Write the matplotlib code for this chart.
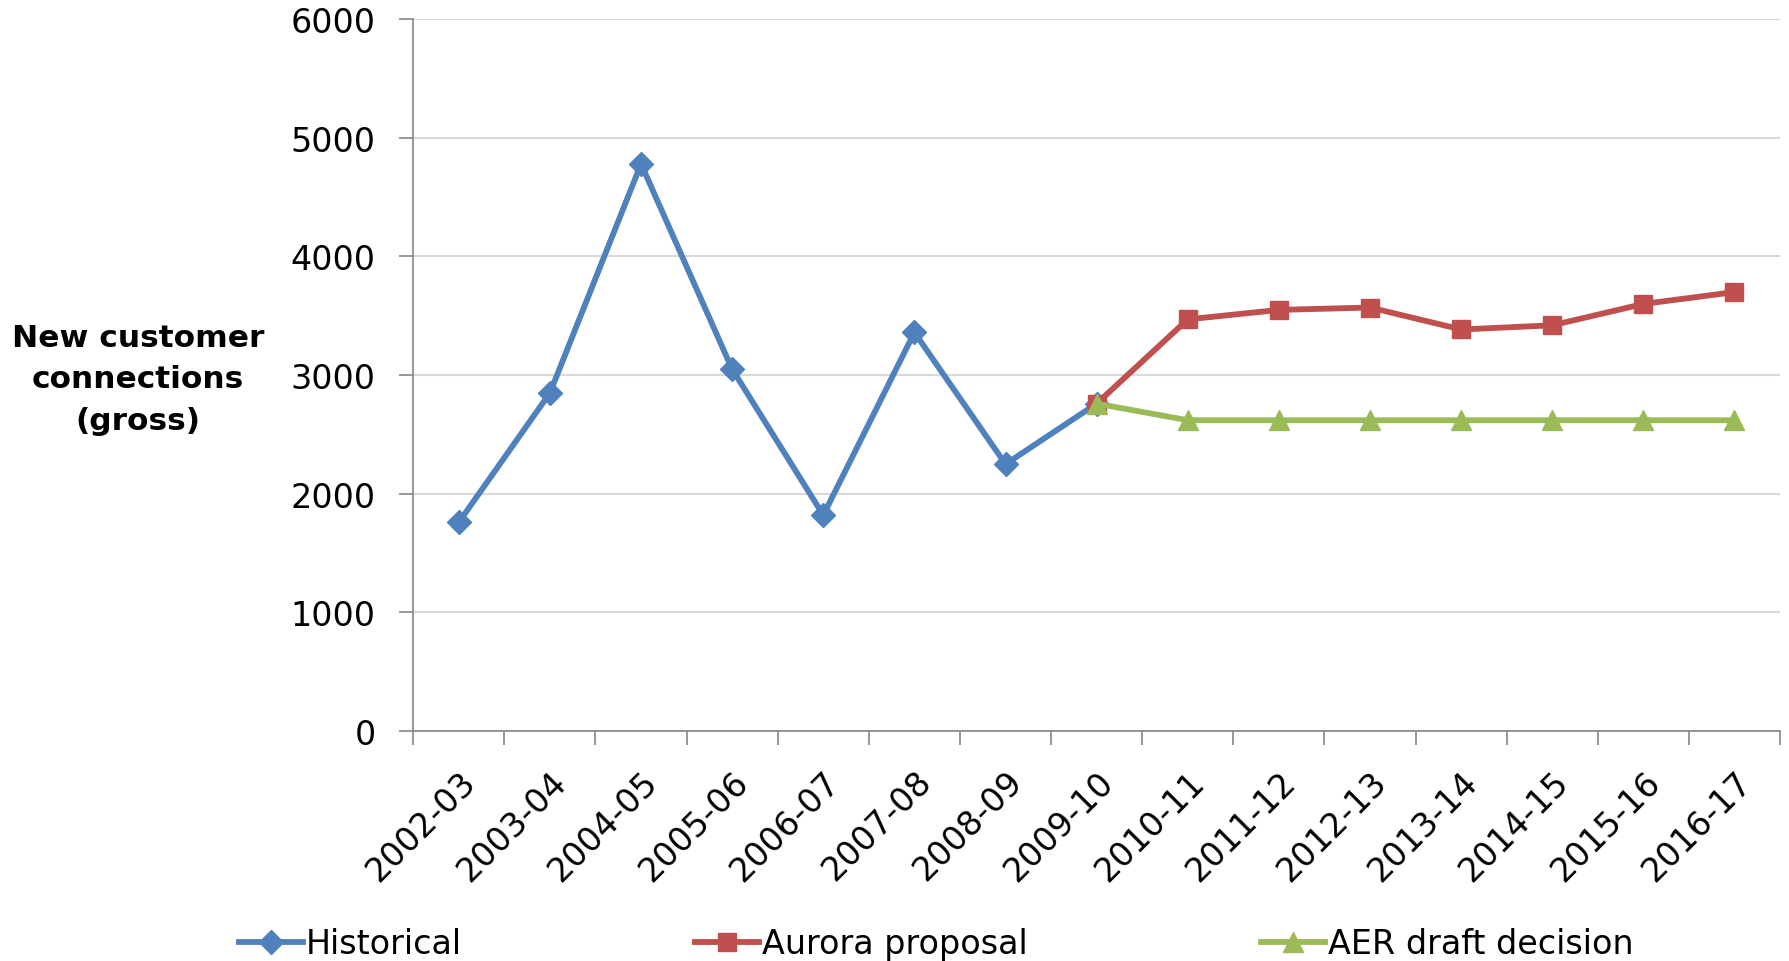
import numpy as np
import matplotlib.pyplot as plt

years = ['2002-03', '2003-04', '2004-05', '2005-06', '2006-07', '2007-08', '2008-09',
         '2009-10', '2010-11', '2011-12', '2012-13', '2013-14', '2014-15', '2015-16', '2016-17']

historical = [1760, 2850, 4780, 3050, 1820, 3360, 2250, 2760]
aurora = [2760, 3470, 3550, 3570, 3385, 3420, 3600, 3700]
aer_draft = [2760, 2620, 2620, 2620, 2620, 2620, 2620, 2620]

x = np.arange(len(years))
x_hist = x[:len(historical)]
x_fc = x[len(historical) - 1:]

fig = plt.figure(figsize=(17.89, 9.62), dpi=100)
ax = fig.add_axes([0.231, 0.239, 0.764, 0.740])

ax.plot(x_hist, historical, '-D', color='#4F81BD', lw=4.2, ms=12, label='Historical', zorder=3)
ax.plot(x_fc, aurora, '-s', color='#C0504D', lw=4.2, ms=13, label='Aurora proposal', zorder=3)
ax.plot(x_fc, aer_draft, '-^', color='#9BBB59', lw=4.2, ms=14, label='AER draft decision', zorder=4)

ax.set_xlim(-0.5, len(years) - 0.5)
ax.set_ylim(0, 6000)
ax.set_yticks(np.arange(0, 6001, 1000))
ax.yaxis.grid(True, color='#D9D9D9', lw=1.5)
ax.set_axisbelow(True)

# labels at category centres, tick marks at boundaries
ax.set_xticks(x)
ax.set_xticklabels(years, rotation=45, ha='right', rotation_mode='anchor', fontsize=24)
ax.set_xticks(np.arange(-0.5, len(years)), minor=True)
ax.tick_params(axis='x', which='major', length=0, pad=24)
ax.tick_params(axis='x', which='minor', length=10, width=1.2, color='#868686')
ax.tick_params(axis='y', length=10, width=1.2, color='#868686', labelsize=24, pad=17)

for s in ['top', 'right']:
    ax.spines[s].set_visible(False)
for s in ['left', 'bottom']:
    ax.spines[s].set_color('#868686')
    ax.spines[s].set_linewidth(1.2)

fig.text(0.077, 0.605, 'New customer\nconnections\n(gross)', ha='center', va='center',
         fontsize=22.5, fontweight='bold', linespacing=1.55)

fig.legend(loc='center left', bbox_to_anchor=(0.117, 0.018), ncol=3, frameon=False,
           fontsize=24, handlelength=1.9, handletextpad=0.1, columnspacing=7.0)

plt.savefig('out.png', dpi=100)
